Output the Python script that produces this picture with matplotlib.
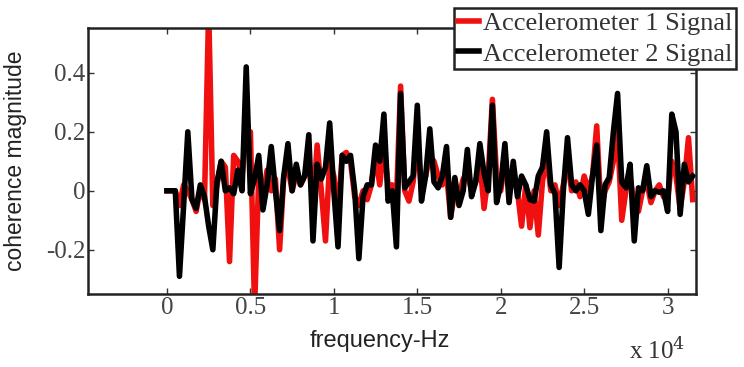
import matplotlib
matplotlib.use("Agg")
import matplotlib.pyplot as plt
import numpy as np
from matplotlib.ticker import FuncFormatter

plt.rcParams['axes.unicode_minus'] = False

# frequency bins (Hz), one every 250 Hz
freq = np.arange(0, 31750, 250)

acc2 = [0, 0, 0, -0.29, -0.05, 0.20, -0.03, -0.06, 0.02, -0.02,
        -0.12, -0.20, 0.03, 0.10, 0.00, 0.01, -0.01, 0.07, 0.0, 0.42,
        -0.01, 0.04, 0.12, -0.065, 0.02, 0.15, 0.0, -0.135, 0.05, 0.16,
        0.0, 0.09, 0.02, 0.05, 0.19, -0.17, 0.09, 0.04, 0.08, 0.23,
        0.0, -0.19, 0.12, 0.10, 0.12, 0.0, -0.23, -0.02, 0.02, 0.02,
        0.155, 0.10, 0.26, -0.035, 0.0, -0.19, 0.33, 0.01, 0.03, 0.05,
        0.29, -0.035, 0.05, 0.21, 0.03, 0.01, 0.05, 0.15, -0.09, 0.045,
        -0.05, 0.0, 0.14, -0.02, 0.03, 0.16, 0.06, 0.0, 0.29, -0.04,
        0.02, 0.16, -0.04, 0.10, -0.02, 0.05, 0.02, -0.03, -0.035, 0.05,
        0.08, 0.20, 0.02, -0.01, -0.26, 0.0, 0.18, 0.02, 0.0, 0.02,
        0.0, -0.08, 0.05, 0.155, -0.135, 0.02, 0.045, 0.20, 0.33, 0.03,
        0.01, 0.09, -0.17, 0.01, 0.0, 0.085, -0.02, 0.0, -0.005, 0.0,
        -0.07, 0.26, 0.20, -0.08, 0.09, 0.03, 0.05]

acc1 = [0, 0, 0.0, -0.05, 0.02, 0.0, -0.03, -0.07, 0.01, -0.03,
        0.62, -0.05, 0.02, 0.10, 0.08, -0.24, 0.12, 0.10, 0.05, 0.20,
        0.20, -0.40, 0.05, -0.02, 0.07, 0.0, 0.04, -0.20, 0.05, 0.08,
        0.0, 0.06, 0.02, 0.05, 0.10, -0.05, 0.155, 0.0, -0.17, 0.10,
        0.05, -0.08, 0.12, 0.13, 0.10, -0.02, -0.05, 0.0, -0.03, 0.02,
        0.12, 0.02, 0.15, 0.02, 0.02, -0.03, 0.355, 0.0, -0.035, 0.03,
        0.18, 0.0, 0.05, 0.12, 0.10, 0.05, 0.02, 0.06, -0.09, 0.0,
        -0.02, 0.04, 0.06, 0.0, 0.03, 0.10, -0.06, 0.05, 0.31, 0.05,
        0.0, 0.10, 0.02, 0.06, 0.0, -0.12, 0.02, -0.125, 0.0, -0.15,
        0.03, 0.12, 0.0, 0.02, -0.05, 0.02, 0.10, 0.0, 0.03, -0.02,
        0.05, 0.0, 0.05, 0.22, -0.06, 0.0, 0.03, 0.10, 0.20, -0.10,
        0.0, 0.05, -0.05, -0.07, 0.0, 0.03, -0.04, 0.0, 0.02, -0.02,
        -0.03, 0.10, 0.05, -0.06, 0.03, 0.18, -0.03]

xticks = [0, 5000, 10000, 15000, 20000, 25000, 30000]
yticks = [-0.2, 0, 0.2, 0.4]

fig = plt.figure(figsize=(7.44, 3.67), dpi=100)
ax = fig.add_axes([88 / 744, 73 / 367, 608 / 744, 266 / 367])

ax.plot(freq, acc1, color="#f01010", lw=4, label="Accelerometer 1 Signal")
ax.plot(freq, acc2, color="black", lw=4, label="Accelerometer 2 Signal")

ax.set_xlim(-4730, 31700)
ax.set_ylim(-0.35, 0.552)
ax.set_xticks(xticks)
ax.set_yticks(yticks)
ax.xaxis.set_major_formatter(FuncFormatter(lambda v, p: "%g" % (v / 1e4)))
ax.yaxis.set_major_formatter(FuncFormatter(lambda v, p: "%g" % v))
ax.tick_params(direction="in", length=4, width=1, top=True, right=True,
               labelsize=18, pad=2, colors="#333333", labelcolor="#444444")
for lab in ax.get_xticklabels() + ax.get_yticklabels():
    lab.set_family("Liberation Serif")
for s in ax.spines.values():
    s.set_linewidth(1.8)
    s.set_color("#222222")

ax.set_xlabel("frequency-Hz", family="Liberation Sans", fontsize=17,
              color="#222222", labelpad=0)
ax.xaxis.set_label_coords(0.48, -0.135)
ax.set_ylabel("coherence magnitude", family="Liberation Sans", fontsize=16.5,
              color="#222222", labelpad=4)
ax.yaxis.set_label_coords(-0.1, 0.5)

fig.text(629 / 744, 1 - 364 / 367, "x 10$^4$", family="Liberation Serif",
         fontsize=18, color="#333333", ha="left", va="bottom",
         math_fontfamily="dejavuserif")

leg = ax.legend(loc="upper right", bbox_to_anchor=(736 / 744, 1 - 8 / 367),
                bbox_transform=fig.transFigure, borderaxespad=0,
                prop={"family": "Liberation Serif", "size": 19},
                handlelength=0.8, handletextpad=0.15, borderpad=0.15,
                labelspacing=0.25, fancybox=False, framealpha=1,
                edgecolor="#222222")
leg.get_frame().set_linewidth(1.8)
for t in leg.get_texts():
    t.set_color("#333333")

fig.savefig("out.png", dpi=100)
